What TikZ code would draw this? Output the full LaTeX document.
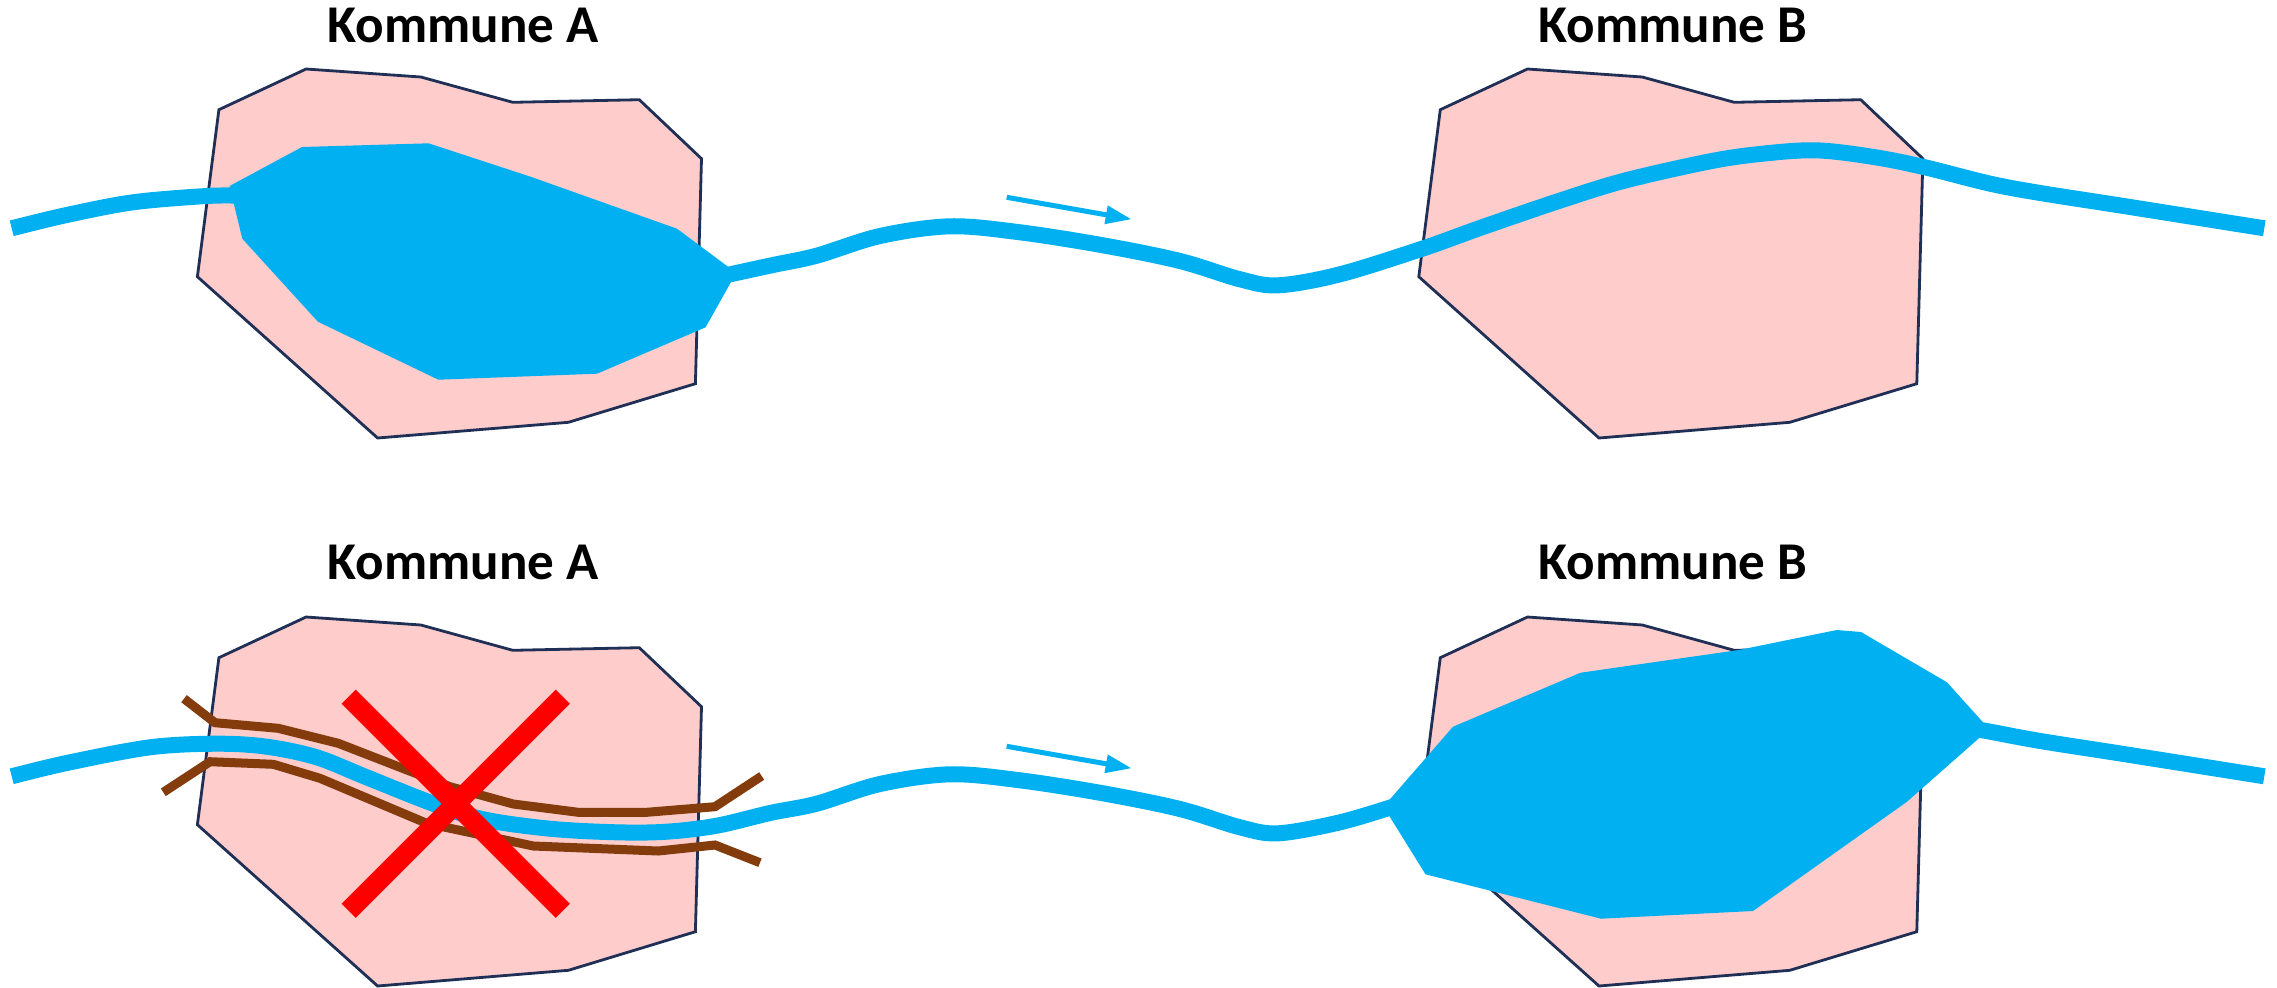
\documentclass[tikz,border=0pt]{standalone}
\usepackage{fontspec}
\setmainfont{Carlito}
\usetikzlibrary{arrows.meta}
\definecolor{rivercol}{HTML}{00B0F0}
\definecolor{zonecol}{HTML}{FFCCCC}
\definecolor{edgecol}{HTML}{1F2F55}
\definecolor{roadcol}{HTML}{843C0C}
\tikzset{
  zone/.style={fill=zonecol,draw=edgecol,line width=0.028cm,line join=miter},
  river/.style={draw=rivercol,line width=0.16cm},
  lake/.style={fill=rivercol},
  road/.style={draw=roadcol,line width=0.09cm,line join=miter},
  cross/.style={draw=red,line width=0.2cm},
  flow/.style={draw=rivercol,line width=0.05cm,-{Triangle[length=0.26cm,width=0.175cm]}},
  title/.style={font=\fontsize{15.1}{18}\selectfont\bfseries,anchor=base,text=black,inner sep=0pt}
}
\newcommand{\zoneshape}{(218.9,109.7) -- (306.1,69) -- (420.9,77) -- (512.8,102.3) -- (639.3,99.7) -- (701.5,158.7) -- (695.4,383.7) -- (568.4,422.3) -- (377.6,438) -- (197.4,276.7) -- cycle}
\begin{document}
\begin{tikzpicture}[x=0.01cm,y=-0.01cm]
\useasboundingbox (0,0) rectangle (2277,987);
% top row
\node[title] (ta) at (463.2,42.7) {Kommune A};
\node[title] (tb) at (1673,42.7) {Kommune B};
\draw[zone] \zoneshape;
\begin{scope}[shift={(1221.4,0)}]
\draw[zone] \zoneshape;
\end{scope}
\draw[river] plot[smooth,tension=0.55] coordinates {(11.7,228.3) (66.7,215) (133,202.3) (206.7,196) (240,195.7)};
\draw[river] plot[smooth,tension=0.55] coordinates {(720,276.5) (773,265) (816.7,255.7) (880,236) (950,226.3) (1020,232.3) (1103,245.3) (1180,261) (1240,279.3) (1278.3,285.3) (1340,274.3) (1423.3,248.3) (1480,228) (1556.7,201.7) (1623.3,181) (1706.7,162) (1757,154.3) (1815.3,150.3) (1873.7,157) (1923.7,167) (1990.3,183.7) (2040.3,193) (2123.7,206) (2264.3,228.3)};
\fill[lake] (229.6,186) -- (302,147) -- (428.6,143.3) -- (530.6,176.7) -- (677,228.7) -- (728,266.7) -- (731,282) -- (705.6,327.3) -- (597,373.7) -- (438.3,379.7) -- (317.9,321.7) -- (242.3,238.7) -- (233.7,203.3) -- cycle;
\coordinate (fa) at (1006.7,197.3);
\coordinate (fb) at (1131.7,219.3);
\draw[flow] (fa) -- (fb);
% bottom row
\node[title] (ba) at (463.2,579.3) {Kommune A};
\node[title] (bb) at (1673,579.3) {Kommune B};
\begin{scope}[shift={(0,548)}]
\draw[zone] \zoneshape;
\end{scope}
\begin{scope}[shift={(1221.4,548)}]
\draw[zone] \zoneshape;
\end{scope}
\draw[road] (184,698.7) -- (215,722.7) -- (278.3,728.3) -- (338.3,743.3) -- (450,786.7) -- (513.3,804) -- (578.3,812.3) -- (646.7,812.3) -- (715,806.7) -- (761.7,776);
\draw[road] (163.3,792.3) -- (210,761.7) -- (273.3,764.3) -- (320,778.3) -- (426.7,823.3) -- (533.3,846) -- (658.3,851) -- (715,845) -- (760,862.7);
\draw[river] plot[smooth,tension=0.55] coordinates {(11.7,776.3) (66.7,763) (150,747.3) (216.7,743.7) (266.7,746.7) (316.7,757.3) (366.7,777.3) (433.3,803.7) (483.3,819.3) (550,828.7) (616.7,832.3) (666.7,831.7) (716.7,825.7) (770,813) (816.7,803.7) (880,784) (950,774.3) (1020,780.3) (1103,793.3) (1180,809) (1240,827.3) (1278.3,833.3) (1340,822.3) (1395,806)};
\draw[river] plot[smooth,tension=0.55] coordinates {(1970,728) (1990.3,731.7) (2040.3,741) (2123.7,754) (2264.3,776.3)};
\fill[lake] (1389.3,800) -- (1453,726.7) -- (1580.6,672.7) -- (1738.8,650) -- (1836.7,630) -- (1861,632) -- (1947,682.3) -- (1982.7,722) -- (1980,737.3) -- (1907,801.7) -- (1753,911) -- (1601,918.7) -- (1425.5,874.3) -- (1389.3,816) -- cycle;
\draw[cross] (348.7,696.7) -- (562.8,910.7);
\draw[cross] (562.8,696.7) -- (348.7,910.7);
\coordinate (fc) at (1006.7,746.3);
\coordinate (fd) at (1131.7,768.3);
\draw[flow] (fc) -- (fd);
\end{tikzpicture}
\end{document}
